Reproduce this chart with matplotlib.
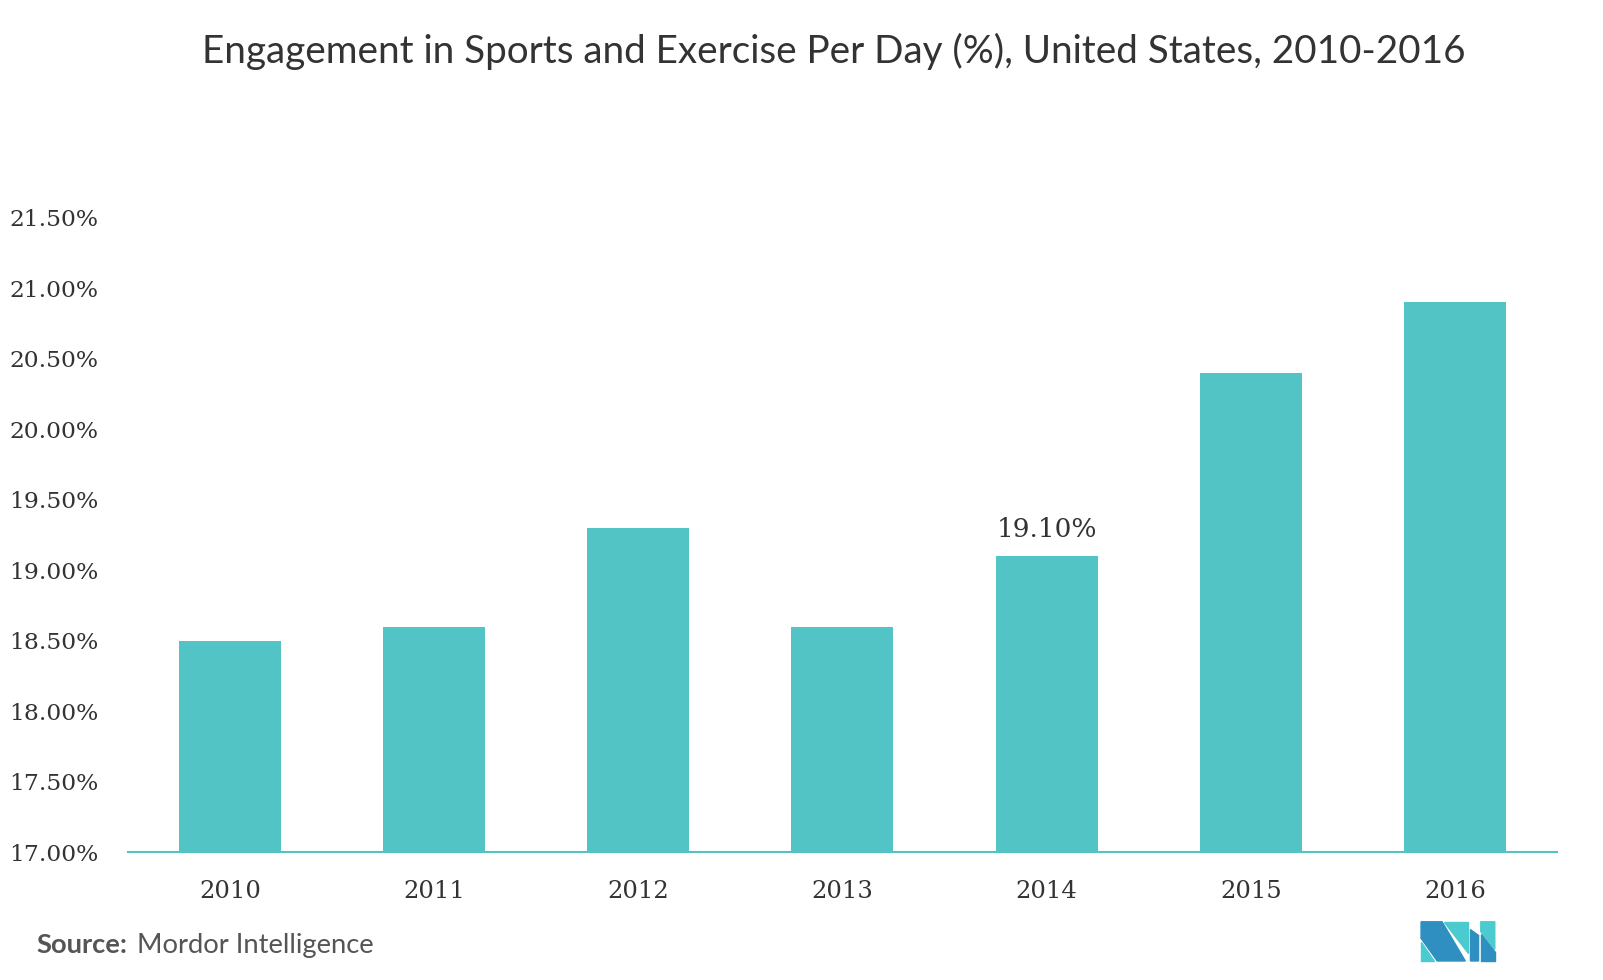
import matplotlib.pyplot as plt
from matplotlib.patches import Polygon

years = ["2010", "2011", "2012", "2013", "2014", "2015", "2016"]
values = [18.5, 18.6, 19.3, 18.6, 19.1, 20.4, 20.9]
yticks = [17.0, 17.5, 18.0, 18.5, 19.0, 19.5, 20.0, 20.5, 21.0, 21.5]
labelled_year = "2014"

bar_color = "#52C4C6"
text_color = "#333333"
tick_font = ["DejaVu Serif"]

fig = plt.figure(figsize=(16.03, 9.8), dpi=100)
ax = fig.add_axes([0.0798, 0.1306, 0.8915, 0.647])

x = range(len(years))
ax.bar(x, values, width=0.5, color=bar_color, bottom=0)
ax.set_xlim(-0.5, len(years) - 0.5)
ax.set_ylim(17.0, 21.5)
ax.set_yticks(yticks)
ax.set_yticklabels([f"{v:.2f}%" for v in yticks], fontsize=16.8, color=text_color,
                   family=tick_font)
ax.set_xticks(list(x))
ax.set_xticklabels(years, fontsize=17.5, color=text_color, family=tick_font)
ax.tick_params(axis="both", length=0)
ax.tick_params(axis="x", pad=20)
ax.tick_params(axis="y", pad=21)

for side in ["top", "right", "left"]:
    ax.spines[side].set_visible(False)
ax.spines["bottom"].set_color(bar_color)
ax.spines["bottom"].set_linewidth(1.5)

i = years.index(labelled_year)
ax.annotate(f"{values[i]:.2f}%", (i, values[i]), xytext=(0, 10),
            textcoords="offset points", ha="center", va="bottom",
            fontsize=19, color=text_color, family=tick_font)

fig.text(0.52, 0.948, "Engagement in Sports and Exercise Per Day (%), United States, 2010-2016",
         ha="center", va="center", fontsize=27.8, color=text_color, family="Lato")

fig.text(0.023, 0.0357, "Source:", ha="left", va="center", fontsize=19.7,
         color="#555555", family="Lato", fontweight="bold")
fig.text(0.0855, 0.0357, "Mordor Intelligence", ha="left", va="center", fontsize=19.7,
         color="#555555", family="Lato")

# logo
dark = "#2E8FC0"
light = "#4BCBCF"
lx, ly, lw, lh = 0.8865, 0.0194, 0.046, 0.040
def pt(u, v):
    return (lx + u * lw, ly + v * lh)
shapes = [
    ([(0, 1), (0.285, 1), (0.6, 0), (0.22, 0), (0, 0.58)], dark),
    ([(0, 0.48), (0, 0), (0.17, 0)], light),
    ([(0.31, 1), (0.64, 1), (0.64, 0.2)], light),
    ([(0.67, 0), (0.67, 0.8), (0.78, 0.65), (0.78, 0)], dark),
    ([(0.81, 1), (1, 1), (1, 0.3), (0.81, 0.75)], light),
    ([(0.81, 0.7), (0.81, 0), (1, 0), (1, 0.22)], dark),
]
for verts, c in shapes:
    fig.patches.append(Polygon([pt(u, v) for u, v in verts], closed=True,
                               color=c, transform=fig.transFigure))

fig.savefig("out.png", dpi=100)
